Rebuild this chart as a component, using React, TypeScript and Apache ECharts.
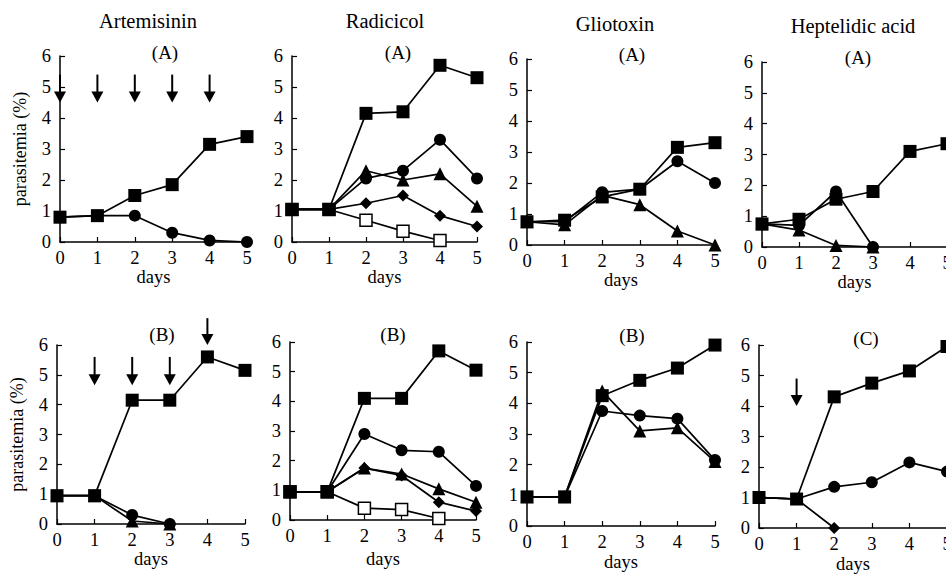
import React, { useEffect, useRef } from "react";
import * as echarts from "echarts";

// ---- data ----
const days = [0, 1, 2, 3, 4, 5];
const yTicks = [0, 1, 2, 3, 4, 5, 6];

const drugTitles = ["Artemisinin", "Radicicol", "Gliotoxin", "Heptelidic acid"];
const panelLabels = ["(A)", "(A)", "(A)", "(A)", "(B)", "(B)", "(B)", "(C)"];

// Artemisinin (A)
const artA_square = [0.8, 0.85, 1.5, 1.85, 3.15, 3.4];
const artA_circle = [0.8, 0.85, 0.85, 0.3, 0.05, 0.0];
const artA_arrows = [
  [0, 5.4, 4.5],
  [1, 5.4, 4.5],
  [2, 5.4, 4.5],
  [3, 5.4, 4.5],
  [4, 5.4, 4.5],
];

// Radicicol (A)
const radA_square = [1.05, 1.05, 4.15, 4.2, 5.7, 5.3];
const radA_circle = [1.05, 1.05, 2.05, 2.3, 3.3, 2.05];
const radA_triangle = [1.05, 1.05, 2.3, 2.0, 2.2, 1.15];
const radA_diamond = [1.05, 1.05, 1.25, 1.5, 0.85, 0.5];
const radA_open = [1.05, 1.05, 0.7, 0.35, 0.05, null];

// Gliotoxin (A)
const gliA_square = [0.75, 0.8, 1.55, 1.8, 3.15, 3.3];
const gliA_circle = [0.75, 0.75, 1.7, 1.8, 2.7, 2.0];
const gliA_triangle = [0.75, 0.65, 1.6, 1.3, 0.45, 0.0];

// Heptelidic acid (A)
const hepA_square = [0.75, 0.9, 1.55, 1.8, 3.1, 3.35];
const hepA_circle = [0.75, 0.7, 1.8, 0.0, null, null];
const hepA_triangle = [0.75, 0.55, 0.05, 0.0, null, null];

// Artemisinin (B)
const artB_square = [0.95, 0.95, 4.15, 4.15, 5.6, 5.15];
const artB_circle = [0.95, 0.95, 0.3, 0.0, null, null];
const artB_triangle = [0.95, 0.95, 0.1, 0.0, null, null];
const artB_arrows = [
  [1, 5.6, 4.65],
  [2, 5.6, 4.65],
  [3, 5.6, 4.65],
  [4, 6.9, 6.0],
];

// Radicicol (B)
const radB_square = [0.95, 0.95, 4.1, 4.1, 5.7, 5.05];
const radB_circle = [0.95, 0.95, 2.9, 2.35, 2.3, 1.15];
const radB_triangle = [0.95, 0.95, 1.75, 1.55, 1.05, 0.6];
const radB_diamond = [0.95, 0.95, 1.75, 1.5, 0.6, 0.3];
const radB_open = [0.95, 0.95, 0.4, 0.35, 0.05, null];

// Gliotoxin (B)
const gliB_square = [0.95, 0.95, 4.25, 4.75, 5.15, 5.9];
const gliB_circle = [0.95, 0.95, 3.75, 3.6, 3.5, 2.15];
const gliB_triangle = [0.95, 0.95, 4.4, 3.1, 3.2, 2.1];

// Heptelidic acid (C)
const hepC_square = [1.0, 0.95, 4.3, 4.75, 5.15, 5.95];
const hepC_circle = [1.0, 0.95, 1.35, 1.5, 2.15, 1.85];
const hepC_diamond = [1.0, 0.95, 0.0, null, null, null];
const hepC_arrows = [[1, 4.9, 4.0]];

// ---- layout (pixels) ----
const grids = [
  { left: 60, top: 56, width: 187, height: 186 },
  { left: 292, top: 56, width: 185, height: 186 },
  { left: 527, top: 59, width: 188, height: 186 },
  { left: 762, top: 62, width: 185, height: 185 },
  { left: 57, top: 345, width: 188, height: 179 },
  { left: 290, top: 342, width: 186, height: 178 },
  { left: 527, top: 342, width: 188, height: 184 },
  { left: 759, top: 345, width: 188, height: 184 },
];
const daysGap = [18, 24, 25, 25, 22, 29, 26, 26];
const titlePos = [
  [148, 21],
  [385, 21],
  [615, 24],
  [853, 26],
];
const labelPos = [
  [165, 52],
  [398, 52],
  [632, 54],
  [858, 57],
  [162, 334],
  [393, 334],
  [632, 335],
  [866, 338],
];

const FONT = "'Liberation Serif', 'DejaVu Serif', serif";

type Kind = "square" | "circle" | "triangle" | "diamond" | "open";

function makeLine(kind: Kind, values: (number | null)[], idx: number) {
  const symbolMap: Record<Kind, string> = {
    square: "rect",
    circle: "circle",
    triangle: "triangle",
    diamond: "diamond",
    open: "rect",
  };
  const sizeMap: Record<Kind, number> = {
    square: 13,
    circle: 12,
    triangle: 13,
    diamond: 12,
    open: 12,
  };
  return {
    type: "line",
    xAxisIndex: idx,
    yAxisIndex: idx,
    data: days
      .map((d, i) => (values[i] === null || values[i] === undefined ? null : [d, values[i]]))
      .filter((p) => p !== null),
    symbol: symbolMap[kind],
    symbolSize: sizeMap[kind],
    showAllSymbol: true,
    lineStyle: { color: "#000", width: 1.7 },
    itemStyle: {
      color: kind === "open" ? "#fff" : "#000",
      borderColor: "#000",
      borderWidth: kind === "open" ? 1.5 : 0,
      opacity: 1,
    },
    z: kind === "square" ? 5 : 3,
    clip: false,
  };
}

function makeArrows(arr: number[][], idx: number) {
  return {
    type: "custom",
    xAxisIndex: idx,
    yAxisIndex: idx,
    clip: false,
    z: 6,
    data: arr,
    renderItem: (params: any, api: any) => {
      const x = api.value(0);
      const p1 = api.coord([x, api.value(1)]);
      const p2 = api.coord([x, api.value(2)]);
      return {
        type: "group",
        children: [
          {
            type: "line",
            shape: { x1: p1[0], y1: p1[1], x2: p2[0], y2: p2[1] - 6 },
            style: { stroke: "#000", lineWidth: 2 },
          },
          {
            type: "polygon",
            shape: {
              points: [
                [p2[0] - 6, p2[1] - 11],
                [p2[0] + 6, p2[1] - 11],
                [p2[0], p2[1]],
              ],
            },
            style: { fill: "#000" },
          },
        ],
      };
    },
  };
}

export default function App() {
  const ref = useRef<HTMLDivElement>(null);
  useEffect(() => {
    if (!ref.current) return;
    const chart = echarts.init(ref.current, undefined, { renderer: "svg" });

    const xAxes = grids.map((_, i) => ({
      type: "value",
      gridIndex: i,
      min: 0,
      max: 5,
      interval: 1,
      name: "days",
      nameLocation: "middle",
      nameGap: daysGap[i],
      nameTextStyle: { fontFamily: FONT, fontSize: 18.5, color: "#000" },
      axisLine: { show: true, onZero: false, lineStyle: { color: "#000", width: 1.5 } },
      axisTick: { show: true, inside: true, length: 5, lineStyle: { color: "#000", width: 1.2 } },
      axisLabel: { fontFamily: FONT, fontSize: 18.5, color: "#000", margin: 6 },
      splitLine: { show: false },
    }));
    const yAxes = grids.map((_, i) => ({
      type: "value",
      gridIndex: i,
      min: 0,
      max: 6,
      interval: 1,
      name: i === 0 || i === 4 ? "parasitemia (%)" : "",
      nameLocation: "middle",
      nameGap: 31,
      nameTextStyle: { fontFamily: FONT, fontSize: 18, color: "#000" },
      axisLine: { show: true, lineStyle: { color: "#000", width: 1.5 } },
      axisTick: { show: true, inside: true, length: 5, lineStyle: { color: "#000", width: 1.2 } },
      axisLabel: {
        fontFamily: FONT,
        fontSize: 18.5,
        color: "#000",
        margin: 9,
        formatter: (v: number) => (yTicks.includes(v) ? String(v) : ""),
      },
      splitLine: { show: false },
    }));

    const series: any[] = [
      makeLine("circle", artA_circle, 0),
      makeLine("square", artA_square, 0),
      makeArrows(artA_arrows, 0),

      makeLine("open", radA_open, 1),
      makeLine("diamond", radA_diamond, 1),
      makeLine("triangle", radA_triangle, 1),
      makeLine("circle", radA_circle, 1),
      makeLine("square", radA_square, 1),

      makeLine("triangle", gliA_triangle, 2),
      makeLine("circle", gliA_circle, 2),
      makeLine("square", gliA_square, 2),

      makeLine("triangle", hepA_triangle, 3),
      makeLine("circle", hepA_circle, 3),
      makeLine("square", hepA_square, 3),

      makeLine("triangle", artB_triangle, 4),
      makeLine("circle", artB_circle, 4),
      makeLine("square", artB_square, 4),
      makeArrows(artB_arrows, 4),

      makeLine("open", radB_open, 5),
      makeLine("diamond", radB_diamond, 5),
      makeLine("triangle", radB_triangle, 5),
      makeLine("circle", radB_circle, 5),
      makeLine("square", radB_square, 5),

      makeLine("circle", gliB_circle, 6),
      makeLine("triangle", gliB_triangle, 6),
      makeLine("square", gliB_square, 6),

      makeLine("diamond", hepC_diamond, 7),
      makeLine("circle", hepC_circle, 7),
      makeLine("square", hepC_square, 7),
      makeArrows(hepC_arrows, 7),
    ];

    const graphic: any[] = [
      ...drugTitles.map((t, i) => ({
        type: "text",
        x: titlePos[i][0],
        y: titlePos[i][1],
        style: {
          text: t,
          fontFamily: FONT,
          fontSize: 20.5,
          fill: "#000",
          textAlign: "center",
          textVerticalAlign: "middle",
        },
      })),
      ...panelLabels.map((t, i) => ({
        type: "text",
        x: labelPos[i][0],
        y: labelPos[i][1],
        style: {
          text: t,
          fontFamily: FONT,
          fontSize: 19,
          fill: "#000",
          textAlign: "center",
          textVerticalAlign: "middle",
        },
      })),
    ];

    chart.setOption({
      animation: false,
      backgroundColor: "#fff",
      grid: grids.map((g) => ({ ...g, containLabel: false })),
      xAxis: xAxes,
      yAxis: yAxes,
      series,
      graphic,
    });
    return () => chart.dispose();
  }, []);

  return (
    <div
      ref={ref}
      style={{ position: "fixed", left: 0, top: 0, width: 966, height: 574, background: "#fff" }}
    />
  );
}
